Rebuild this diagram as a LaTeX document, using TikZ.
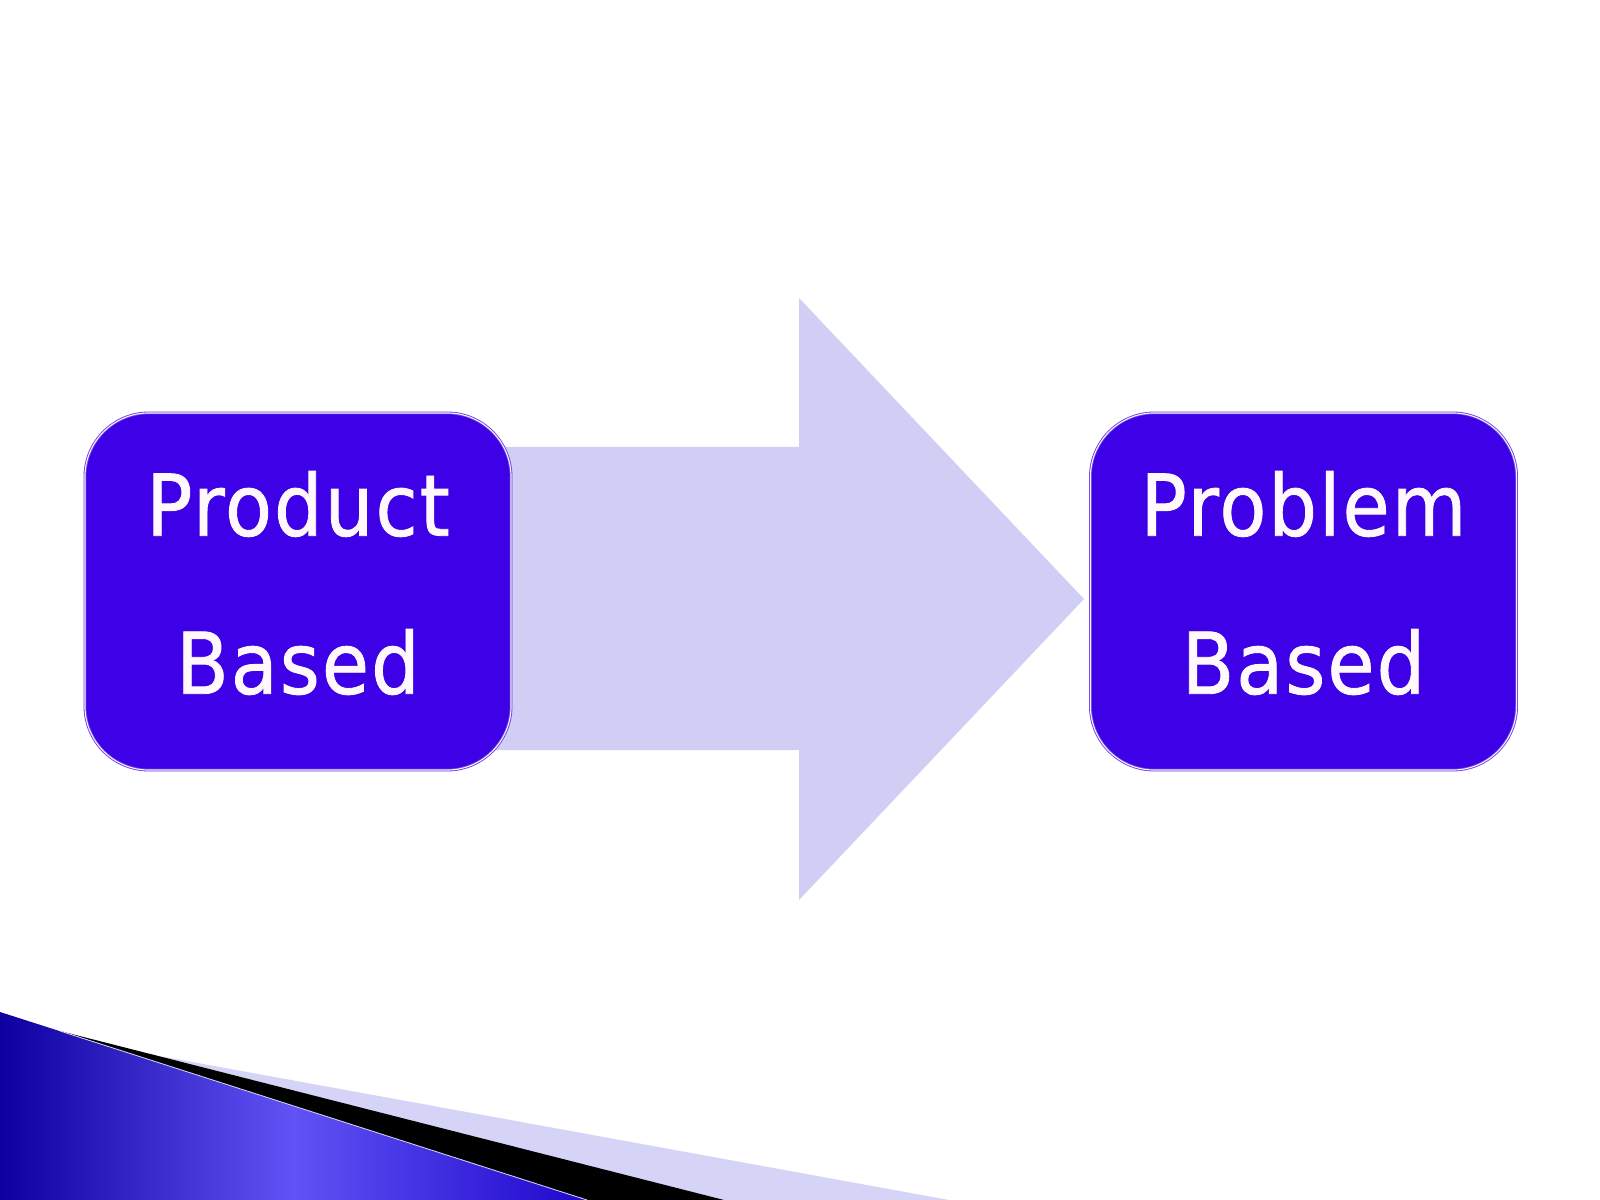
\documentclass[tikz,border=0pt]{standalone}
\usepackage{fontspec}
\setmainfont{DejaVu Sans}[FakeStretch=0.9, FakeBold=1, LetterSpace=2.5]
\definecolor{boxblue}{RGB}{62,0,230}
\definecolor{boxedge}{RGB}{104,60,226}
\definecolor{arrowlav}{RGB}{208,206,244}
\definecolor{swdark}{RGB}{14,0,160}
\definecolor{swlight}{RGB}{96,82,244}
\definecolor{swdeep}{RGB}{30,8,204}
\definecolor{swlav}{RGB}{214,212,246}
\definecolor{textwhite}{RGB}{255,248,252}

\begin{document}
\begin{tikzpicture}[x=0.025cm, y=-0.025cm,
    stage/.style={draw=boxedge, double=white!92!boxedge, double distance=0.8pt, line width=0.6pt,
        fill=boxblue, rounded corners=1.6cm, minimum width=10.65cm, minimum height=8.925cm},
    stagetext/.style={align=center, text=textwhite, font=\fontsize{60.5}{112.4}\selectfont, inner sep=0pt}]
    \useasboundingbox[fill=white] (0,0) rectangle (1600,1200);

    % swoosh in the corner
    \fill[swlav] (110,1047) -- (949,1200) -- (0,1200) -- cycle;
    \fill[black] (60,1031) -- (724,1200) -- (0,1200) -- cycle;
    \shade[left color=swdark, right color=swdeep, middle color=swlight] (0,1012) -- (587,1200) -- (0,1200) -- cycle;
    \draw[swlav, line width=0.6pt] (60,1031) -- (587,1200);

    \fill[arrowlav] (470,447) -- (799,447) -- (799,298) -- (1084,599) -- (799,900) -- (799,750) -- (470,750) -- cycle;

    \node[stage] at (298,591.5) (prod) {};
    \node[stage] at (1303.5,591.5) (prob) {};
    \node[stagetext] at (298,583) (prodtext) {Product\\Based};
    \node[stagetext] at (1303.5,583) (probtext) {Problem\\Based};
\end{tikzpicture}
\end{document}
